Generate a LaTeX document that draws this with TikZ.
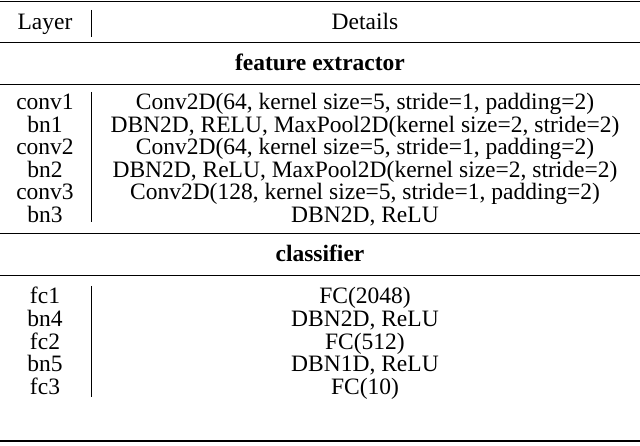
\documentclass[tikz,border=0pt]{standalone}
\usepackage{fontspec}
\setmainfont{Liberation Serif}
\begin{document}
\begin{tikzpicture}[x=1pt,y=-1pt,
  txt/.style={font=\fontsize{23.5}{26}\selectfont,inner sep=0pt,anchor=base},
  bold/.style={txt,font=\fontsize{23.5}{26}\selectfont\bfseries},
  thick rule/.style={line width=1.4pt},
  thin rule/.style={line width=0.7pt},
  vrule/.style={line width=0.7pt}]
\useasboundingbox (0,0) rectangle (640,446);
\draw[thick rule] (0,1.5) -- (640,1.5);
\node[txt] (hl) at (45,30) {Layer};
\node[txt] (hd) at (365,30) {Details};
\draw[vrule] (91,10) -- (91,37);
\draw[thin rule] (0,42) -- (640,42);
\node[bold] (fe) at (320,70.5) {feature extractor};
\draw[thin rule] (0,84) -- (640,84);
\foreach \n/\l/\d [count=\i from 0] in {
 c1/conv1/{Conv2D(64, kernel size=5, stride=1, padding=2)},
 b1/bn1/{DBN2D, RELU, MaxPool2D(kernel size=2, stride=2)},
 c2/conv2/{Conv2D(64, kernel size=5, stride=1, padding=2)},
 b2/bn2/{DBN2D, ReLU, MaxPool2D(kernel size=2, stride=2)},
 c3/conv3/{Conv2D(128, kernel size=5, stride=1, padding=2)},
 b3/bn3/{DBN2D, ReLU}}{
 \node[txt] (l\n) at (45,110+22.5*\i) {\l};
 \node[txt] (d\n) at (365,110+22.5*\i) {\d};
}
\draw[vrule] (91,92) -- (91,222);
\draw[thin rule] (0,233) -- (640,233);
\node[bold] (cl) at (320,261.5) {classifier};
\draw[thin rule] (0,275) -- (640,275);
\foreach \n/\l/\d [count=\i from 0] in {
 f1/fc1/{FC(2048)}, b4/bn4/{DBN2D, ReLU}, f2/fc2/{FC(512)},
 b5/bn5/{DBN1D, ReLU}, f3/fc3/{FC(10)}}{
 \node[txt] (l\n) at (45,304+22.5*\i) {\l};
 \node[txt] (d\n) at (365,304+22.5*\i) {\d};
}
\draw[vrule] (91,286) -- (91,397);
\draw[thick rule] (0,441) -- (640,441);
\end{tikzpicture}
\end{document}
